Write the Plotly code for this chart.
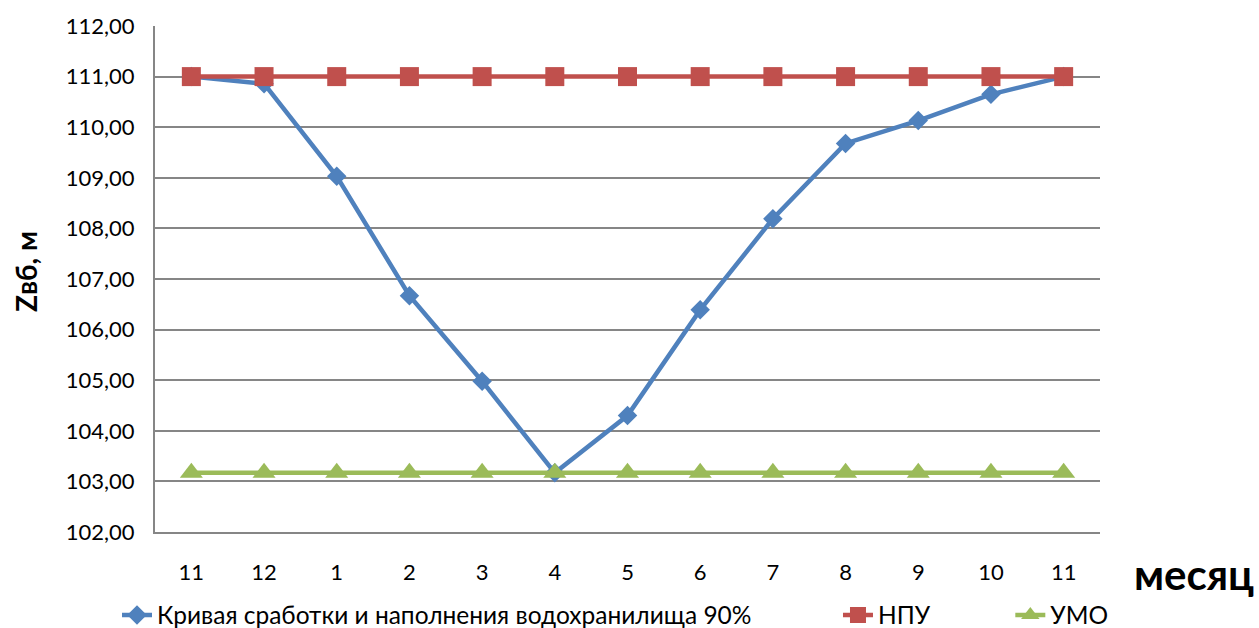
import plotly.graph_objects as go

# Months of the water year (Nov .. Nov)
months = ["11", "12", "1", "2", "3", "4", "5", "6", "7", "8", "9", "10", "11"]
positions = list(range(len(months)))

# Reservoir drawdown/filling curve, 90% probability, m
curve_90 = [111.00, 110.86, 109.03, 106.67, 104.98, 103.17, 104.30,
            106.39, 108.19, 109.68, 110.13, 110.65, 111.00]
# Normal headwater level (НПУ) and dead storage level (УМО), m
npu = [111.00] * 13
umo = [103.17] * 13

y_ticks = [102, 103, 104, 105, 106, 107, 108, 109, 110, 111, 112]

FONT = "Lato"
BLUE, RED, GREEN = "#4F81BD", "#C0504D", "#9BBB59"
NBSP = "\u00a0"

fig = go.Figure()
fig.add_trace(go.Scatter(
    x=positions, y=curve_90, mode="lines+markers",
    name="Кривая сработки и наполнения водохранилища 90%" + NBSP * 13,
    line=dict(color=BLUE, width=4.5),
    marker=dict(symbol="diamond", size=15, color=BLUE),
))
fig.add_trace(go.Scatter(
    x=positions, y=npu, mode="lines+markers", name="НПУ" + NBSP * 12,
    line=dict(color=RED, width=4.5),
    marker=dict(symbol="square", size=19, color=RED),
))
fig.add_trace(go.Scatter(
    x=positions, y=umo, mode="lines+markers", name="УМО",
    line=dict(color=GREEN, width=4.5),
    marker=dict(symbol="triangle-up", size=20, color=GREEN),
))

W, H = 1259, 628
L, R, T, B = 155, 159, 26, 96
plot_w = W - L - R
plot_h = H - T - B


def px_x(px):
    return (px - L) / plot_w


def px_y(py):
    return (H - B - py) / plot_h


fig.update_layout(
    width=W, height=H,
    margin=dict(l=L, r=R, t=T, b=B, autoexpand=False),
    paper_bgcolor="white", plot_bgcolor="white",
    separators=", ",
    font=dict(family=FONT, size=22, color="#000000"),
    showlegend=True,
    legend=dict(
        orientation="h", x=px_x(117), xanchor="left",
        y=px_y(615), yanchor="middle",
        font=dict(size=24.5), tracegroupgap=0,
        bgcolor="rgba(0,0,0,0)",
    ),
    xaxis=dict(
        range=[-0.5, 12.5], tickmode="array", tickvals=positions, ticktext=months,
        showgrid=False, showline=True, linecolor="#868686", linewidth=2,
        ticks="", ticklabelstandoff=20, zeroline=False, fixedrange=True,
    ),
    yaxis=dict(
        range=[102, 112], tickmode="array", tickvals=y_ticks, tickformat=".2f",
        showgrid=True, gridcolor="#868686", gridwidth=1.5,
        showline=True, linecolor="#868686", linewidth=2,
        ticks="", ticklabelstandoff=14, zeroline=False, fixedrange=True,
    ),
    annotations=[
        dict(text="<b>Zвб, м</b>", textangle=-90, x=px_x(26), y=px_y(272),
             xref="paper", yref="paper", xanchor="center", yanchor="middle",
             showarrow=False, font=dict(size=28, family=FONT)),
        dict(text="<b>месяц</b>", x=px_x(1194), y=px_y(574),
             xref="paper", yref="paper", xanchor="center", yanchor="middle",
             showarrow=False, font=dict(size=42, family=FONT)),
    ],
)

fig.write_html("out.html")
